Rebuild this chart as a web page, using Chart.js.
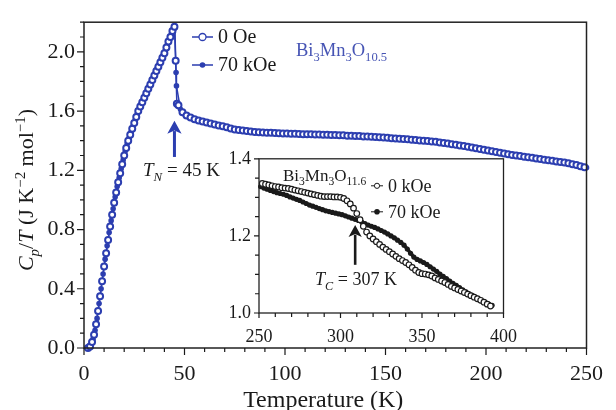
<!DOCTYPE html>
<html>
<head>
<meta charset="utf-8">
<script src="https://cdn.jsdelivr.net/npm/chart.js@4.4.1/dist/chart.umd.min.js"></script>
<style>
html, body { margin: 0; padding: 0; background: #fff; }
#wrap { position: relative; width: 616px; height: 410px; }
#main { position: absolute; left: 0; top: 0; }
#inset { position: absolute; left: 200px; top: 140px; }
</style>
</head>
<body>
<div id="wrap">
  <canvas id="main" width="616" height="410"></canvas>
  <canvas id="inset" width="330" height="205"></canvas>
</div>
<script>
// Bi3Mn3O10.5, 0 Oe (open circles)
const t0 = [2,3,4,5,6,7,8,9,10,11,12,13,14,15,16,17,18,19,20,21,22,23,24,25,26,27,28,29,30,31,32,33,34,35,36,37,38,39,40,41,42,43,44,45,45.6,46.2,
  47,49,51,53,55,57,59,61,63,65,67,69,71,73,75,77,79,81,83,85,87,89,91,93,95,97,99,101,103,105,107,109,111,113,115,117,119,121,123,125,127,129,
  131,133,135,137,139,141,143,145,147,149,151,153,155,157,159,161,163,165,167,169,171,173,175,177,179,181,183,185,187,189,191,193,195,197,199,
  201,203,205,207,209,211,213,215,217,219,221,223,225,227,229,231,233,235,237,239,241,243,245,247,249];
const cp0 = [0.00,0.01,0.04,0.09,0.16,0.25,0.35,0.45,0.55,0.64,0.73,0.82,0.90,0.98,1.05,1.12,1.18,1.24,1.30,1.35,1.40,1.44,1.48,1.52,1.56,1.60,1.63,1.66,1.69,1.72,1.75,1.78,1.81,1.84,1.87,1.90,1.93,1.96,1.99,2.03,2.07,2.10,2.14,2.17,1.94,1.65,
  1.640,1.592,1.570,1.556,1.545,1.537,1.529,1.523,1.516,1.510,1.503,1.497,1.490,1.483,1.476,1.472,1.468,1.465,1.462,1.459,1.457,1.456,1.454,1.453,1.451,1.450,1.449,1.448,1.447,1.446,1.445,1.444,1.444,1.443,1.442,1.441,1.440,1.440,1.439,1.438,1.437,1.436,
  1.434,1.433,1.432,1.431,1.429,1.428,1.426,1.425,1.423,1.422,1.420,1.417,1.415,1.413,1.411,1.409,1.406,1.404,1.402,1.399,1.397,1.395,1.392,1.388,1.385,1.381,1.376,1.372,1.368,1.364,1.359,1.354,1.349,1.344,1.339,
  1.333,1.328,1.323,1.318,1.313,1.309,1.304,1.300,1.296,1.292,1.288,1.284,1.280,1.276,1.272,1.268,1.264,1.260,1.256,1.252,1.247,1.241,1.235,1.228,1.221];

// Bi3Mn3O10.5, 70 kOe (filled dots)
const t70 = [2.5,3.5,4.5,5.5,6.5,7.5,8.5,9.5,10.5,11.5,12.5,13.5,14.5,15.5,16.5,17.5,18.5,19.5,20.5,21.5,22.5,23.5,24.5,25.5,26.5,27.5,28.5,29.5,30.5,31.5,32.5,33.5,34.5,35.5,36.5,37.5,38.5,39.5,40.5,41.5,42.5,43.5,44.5,45.2,45.8,46.0,
  48,50,52,54,56,58,60,62,64,66,68,70,72,74,76,78,80,82,84,86,88,90,92,94,96,98,100,102,104,106,108,110,112,114,116,118,120,122,124,126,128,130,
  132,134,136,138,140,142,144,146,148,150,152,154,156,158,160,162,164,166,168,170,172,174,176,178,180,182,184,186,188,190,192,194,196,198,200,
  202,204,206,208,210,212,214,216,218,220,222,224,226,228,230,232,234,236,238,240,242,244,246,248,250];
const cp70 = [0.00,0.02,0.06,0.12,0.20,0.30,0.40,0.50,0.60,0.69,0.78,0.86,0.94,1.02,1.09,1.15,1.21,1.27,1.33,1.38,1.42,1.46,1.50,1.54,1.58,1.61,1.65,1.68,1.71,1.74,1.77,1.80,1.83,1.86,1.89,1.92,1.95,1.98,2.01,2.05,2.08,2.12,2.15,2.16,1.86,1.77,
  1.612,1.578,1.562,1.550,1.541,1.533,1.526,1.520,1.513,1.507,1.500,1.493,1.486,1.479,1.474,1.470,1.466,1.463,1.460,1.458,1.456,1.455,1.453,1.452,1.450,1.449,1.449,1.448,1.446,1.445,1.445,1.444,1.443,1.442,1.441,1.441,1.440,1.439,1.438,1.437,1.436,1.435,
  1.434,1.432,1.431,1.430,1.429,1.427,1.426,1.424,1.422,1.421,1.418,1.416,1.414,1.412,1.410,1.408,1.405,1.403,1.400,1.398,1.396,1.393,1.390,1.386,1.383,1.378,1.374,1.370,1.366,1.362,1.357,1.352,1.346,1.341,1.336,
  1.331,1.325,1.320,1.316,1.311,1.306,1.302,1.298,1.294,1.290,1.286,1.282,1.278,1.274,1.270,1.266,1.262,1.258,1.254,1.250,1.244,1.238,1.232,1.225,1.218];

// inset: Bi3Mn3O11.6, 0 kOe (open circles)
const ti0 = [252,254,256,258,260,262,264,266,268,270,272,274,276,278,280,282,284,286,288,290,292,294,296,298,300,302,304,306,308,310,312,314,316,318,320,
  322,324,326,328,330,332,334,336,338,340,342,344,346,348,350,352,354,356,358,360,362,364,366,368,370,372,374,376,378,380,382,384,386,388,390,392];
const ci0 = [1.336,1.334,1.332,1.330,1.328,1.327,1.325,1.324,1.323,1.321,1.319,1.317,1.315,1.313,1.311,1.309,1.307,1.305,1.303,1.302,1.302,1.302,1.301,1.301,1.300,1.297,1.291,1.283,1.272,1.258,1.242,1.225,1.210,1.200,1.192,
  1.185,1.178,1.171,1.165,1.159,1.153,1.147,1.141,1.136,1.131,1.125,1.118,1.111,1.105,1.102,1.101,1.099,1.096,1.091,1.087,1.083,1.079,1.074,1.069,1.065,1.061,1.057,1.053,1.049,1.045,1.041,1.037,1.033,1.028,1.023,1.018];

// inset: 70 kOe (filled dots)
const ti70 = [251,253,255,257,259,261,263,265,267,269,271,273,275,277,279,281,283,285,287,289,291,293,295,297,299,301,303,305,307,309,311,313,315,317,319,321,
  323,325,327,329,331,333,335,337,339,341,343,345,347,349,351,353,355,357,359,361,363,365,367,369,371,373,375,377,379,381,383,385,387,389,391,393];
const ci70 = [1.328,1.324,1.321,1.318,1.315,1.312,1.310,1.308,1.305,1.301,1.298,1.295,1.292,1.288,1.284,1.280,1.277,1.274,1.271,1.268,1.265,1.263,1.261,1.259,1.257,1.255,1.252,1.249,1.246,1.243,1.240,1.236,1.232,1.228,1.225,1.222,
  1.218,1.214,1.210,1.205,1.200,1.195,1.189,1.183,1.176,1.166,1.155,1.145,1.139,1.135,1.131,1.126,1.120,1.114,1.108,1.101,1.095,1.089,1.083,1.077,1.072,1.066,1.060,1.055,1.050,1.045,1.040,1.036,1.031,1.027,1.023,1.020];

const BLUE = 'rgb(44,62,176)';
const TXT = '#1a1a1a';
const SERIF = '"Liberation Serif", "Times New Roman", serif';

function pts(xs, ys) { return xs.map((x, i) => ({ x: x, y: ys[i] })); }

// draw text with italic / sub / sup pieces
function richWidth(ctx, parts, size) {
  let w = 0;
  parts.forEach(p => {
    const small = p[1].includes('sub') || p[1].includes('sup');
    ctx.font = (p[1].includes('i') ? 'italic ' : '') + (small ? size * 0.68 : size) + 'px ' + SERIF;
    w += ctx.measureText(p[0]).width;
  });
  return w;
}
function drawRich(ctx, parts, x, y, size, color, align) {
  let w = richWidth(ctx, parts, size);
  let cx = align === 'center' ? x - w / 2 : x;
  ctx.fillStyle = color;
  ctx.textBaseline = 'alphabetic';
  ctx.textAlign = 'left';
  parts.forEach(p => {
    const sub = p[1].includes('sub'), sup = p[1].includes('sup');
    const fs = (sub || sup) ? size * 0.68 : size;
    ctx.font = (p[1].includes('i') ? 'italic ' : '') + fs + 'px ' + SERIF;
    let dy = sub ? size * 0.25 : (sup ? -size * 0.38 : 0);
    ctx.fillText(p[0], cx, y + dy);
    cx += ctx.measureText(p[0]).width;
  });
}

function drawTicks(ctx, chart, xStep, yStep, majLen, minLen) {
  const xs = chart.scales.x, ys = chart.scales.y, a = chart.chartArea;
  ctx.strokeStyle = TXT;
  ctx.lineWidth = 1.2;
  ctx.beginPath();
  for (let v = xs.min; v <= xs.max + 1e-9; v += xStep) {
    const px = xs.getPixelForValue(v);
    const major = xs.ticks.some(t => Math.abs(t.value - v) < 1e-6);
    ctx.moveTo(px, a.bottom);
    ctx.lineTo(px, a.bottom + (major ? majLen : minLen));
  }
  for (let v = ys.min; v <= ys.max + 1e-9; v += yStep) {
    const py = ys.getPixelForValue(v);
    const major = ys.ticks.some(t => Math.abs(t.value - v) < 1e-6);
    ctx.moveTo(a.left, py);
    ctx.lineTo(a.left - (major ? majLen : minLen), py);
  }
  ctx.stroke();
}

function arrow(ctx, x, y1, y2, color, lw, head) {
  ctx.strokeStyle = color;
  ctx.fillStyle = color;
  ctx.lineWidth = lw;
  ctx.beginPath();
  ctx.moveTo(x, y1);
  ctx.lineTo(x, y2 + head * 0.8);
  ctx.stroke();
  ctx.beginPath();
  ctx.moveTo(x, y2);
  ctx.lineTo(x - head * 0.55, y2 + head);
  ctx.lineTo(x, y2 + head * 0.75);
  ctx.lineTo(x + head * 0.55, y2 + head);
  ctx.closePath();
  ctx.fill();
}

const mainDecor = {
  id: 'mainDecor',
  afterDraw(chart) {
    const ctx = chart.ctx, a = chart.chartArea;
    const xs = chart.scales.x, ys = chart.scales.y;
    ctx.save();
    ctx.strokeStyle = '#222';
    ctx.lineWidth = 1.5;
    ctx.strokeRect(a.left, a.top, a.right - a.left, a.bottom - a.top);
    drawTicks(ctx, chart, 10, 0.1, 7, 4);

    // axis titles
    ctx.font = '24px ' + SERIF;
    ctx.fillStyle = TXT;
    ctx.textAlign = 'center';
    ctx.textBaseline = 'alphabetic';
    ctx.fillText('Temperature (K)', (a.left + a.right) / 2 - 12, 407);
    ctx.save();
    ctx.translate(33, 190);
    ctx.rotate(-Math.PI / 2);
    drawRich(ctx, [['C', 'i'], ['p', 'isub'], ['/', ''], ['T', 'i'], [' (J K', ''], ['\u22122', 'sup'], [' mol', ''], ['\u22121', 'sup'], [')', '']], 0, 0, 22, TXT, 'center');
    ctx.restore();

    // legend
    const lx = 192, ly1 = 37, ly2 = 65;
    ctx.strokeStyle = BLUE; ctx.lineWidth = 1.3;
    ctx.beginPath(); ctx.moveTo(lx, ly1); ctx.lineTo(lx + 21, ly1); ctx.moveTo(lx, ly2); ctx.lineTo(lx + 21, ly2); ctx.stroke();
    ctx.fillStyle = '#fff';
    ctx.beginPath(); ctx.arc(lx + 10.5, ly1, 3.5, 0, Math.PI * 2); ctx.fill(); ctx.stroke();
    ctx.fillStyle = BLUE;
    ctx.beginPath(); ctx.arc(lx + 10.5, ly2, 2.8, 0, Math.PI * 2); ctx.fill();
    ctx.font = '20px ' + SERIF;
    ctx.fillStyle = TXT;
    ctx.textAlign = 'left';
    ctx.textBaseline = 'middle';
    ctx.fillText('0 Oe', lx + 26, ly1 + 1);
    ctx.fillText('70 kOe', lx + 26, ly2 + 1);

    // compound label
    drawRich(ctx, [['Bi', ''], ['3', 'sub'], ['Mn', ''], ['3', 'sub'], ['O', ''], ['10.5', 'sub']], 296, 56, 18.5, 'rgb(70,84,180)', 'left');

    // T_N arrow and label
    const ax = xs.getPixelForValue(45);
    arrow(ctx, ax, ys.getPixelForValue(1.29), ys.getPixelForValue(1.535), BLUE, 3, 13);
    drawRich(ctx, [['T', 'i'], ['N', 'isub'], [' = 45 K', '']], xs.getPixelForValue(48.5), ys.getPixelForValue(1.16), 19, TXT, 'center');
    ctx.restore();
  }
};

const insetDecor = {
  id: 'insetDecor',
  beforeDraw(chart) {
    const ctx = chart.ctx, a = chart.chartArea;
    ctx.save();
    ctx.fillStyle = '#fff';
    ctx.fillRect(a.left, a.top, a.right - a.left, a.bottom - a.top);
    ctx.restore();
  },
  afterDraw(chart) {
    const ctx = chart.ctx, a = chart.chartArea;
    const xs = chart.scales.x, ys = chart.scales.y;
    ctx.save();
    ctx.strokeStyle = '#222';
    ctx.lineWidth = 1.3;
    ctx.strokeRect(a.left, a.top, a.right - a.left, a.bottom - a.top);
    drawTicks(ctx, chart, 10, 0.05, 5, 4);

    drawRich(ctx, [['Bi', ''], ['3', 'sub'], ['Mn', ''], ['3', 'sub'], ['O', ''], ['11.6', 'sub']], a.left + 24, a.top + 22, 17, TXT, 'left');

    // legend
    const lx = a.left + 112, ly1 = a.top + 27, ly2 = a.top + 53;
    ctx.strokeStyle = TXT; ctx.lineWidth = 1;
    ctx.beginPath(); ctx.moveTo(lx, ly1); ctx.lineTo(lx + 12, ly1); ctx.moveTo(lx, ly2); ctx.lineTo(lx + 12, ly2); ctx.stroke();
    ctx.fillStyle = '#fff';
    ctx.beginPath(); ctx.arc(lx + 6, ly1, 2.6, 0, Math.PI * 2); ctx.fill(); ctx.stroke();
    ctx.fillStyle = TXT;
    ctx.beginPath(); ctx.arc(lx + 6, ly2, 2.8, 0, Math.PI * 2); ctx.fill();
    ctx.font = '18px ' + SERIF;
    ctx.textAlign = 'left';
    ctx.textBaseline = 'middle';
    ctx.fillText('0 kOe', lx + 17, ly1 + 1);
    ctx.fillText('70 kOe', lx + 17, ly2 + 1);

    // T_C arrow and label
    const ax = xs.getPixelForValue(309);
    arrow(ctx, ax, ys.getPixelForValue(1.125), ys.getPixelForValue(1.228), TXT, 2.6, 12);
    drawRich(ctx, [['T', 'i'], ['C', 'isub'], [' = 307 K', '']], xs.getPixelForValue(309.5), ys.getPixelForValue(1.072), 18, TXT, 'center');
    ctx.restore();
  }
};

function axisOpts(min, max, step, size, pad, fmt) {
  return {
    type: 'linear', min: min, max: max,
    grid: { display: false, drawTicks: false },
    border: { display: false },
    ticks: { stepSize: step, includeBounds: false, autoSkip: false, maxRotation: 0, padding: pad, color: TXT,
      font: { family: SERIF, size: size }, callback: fmt }
  };
}

const mainX = axisOpts(0, 250, 50, 22, 13, v => String(v));
mainX.afterFit = s => { s.height = 62; };
const mainY = axisOpts(0, 2.2, 0.4, 22, 9, v => v.toFixed(1));
mainY.afterFit = s => { s.width = 84; };

new Chart(document.getElementById('main'), {
  type: 'scatter',
  data: {
    datasets: [
      { label: '0 Oe', data: pts(t0, cp0), showLine: true, borderColor: BLUE, borderWidth: 1.5,
        pointRadius: 3, pointBorderWidth: 2, pointBorderColor: BLUE, pointBackgroundColor: '#fff', clip: false },
      { label: '70 kOe', data: pts(t70, cp70), showLine: true, borderColor: BLUE, borderWidth: 1.5,
        pointRadius: 2.8, pointBorderWidth: 0, pointBackgroundColor: BLUE, clip: false }
    ]
  },
  options: {
    responsive: false, animation: false,
    layout: { padding: { left: 0, right: 15, top: 11, bottom: 0 } },
    plugins: { legend: { display: false }, tooltip: { enabled: false } },
    scales: { x: mainX, y: mainY }
  },
  plugins: [mainDecor]
});

const inX = axisOpts(250, 400, 50, 18, 13, v => String(v));
inX.afterFit = s => { s.height = 32; };
const inY = axisOpts(1.0, 1.4, 0.2, 18, 8, v => v.toFixed(1));
inY.afterFit = s => { s.width = 59; };

new Chart(document.getElementById('inset'), {
  type: 'scatter',
  data: {
    datasets: [
      { label: '0 kOe', data: pts(ti0, ci0), showLine: false,
        pointRadius: 2.8, pointBorderWidth: 1.2, pointBorderColor: TXT, pointBackgroundColor: '#fff', clip: false },
      { label: '70 kOe', data: pts(ti70, ci70), showLine: true, borderColor: TXT, borderWidth: 3.5,
        pointRadius: 2.6, pointBorderWidth: 0, pointBackgroundColor: TXT, clip: false }
    ]
  },
  options: {
    responsive: false, animation: false,
    layout: { padding: { left: 0, right: 13, top: 13, bottom: 0 } },
    plugins: { legend: { display: false }, tooltip: { enabled: false } },
    scales: { x: inX, y: inY }
  },
  plugins: [insetDecor]
});
</script>
</body>
</html>
